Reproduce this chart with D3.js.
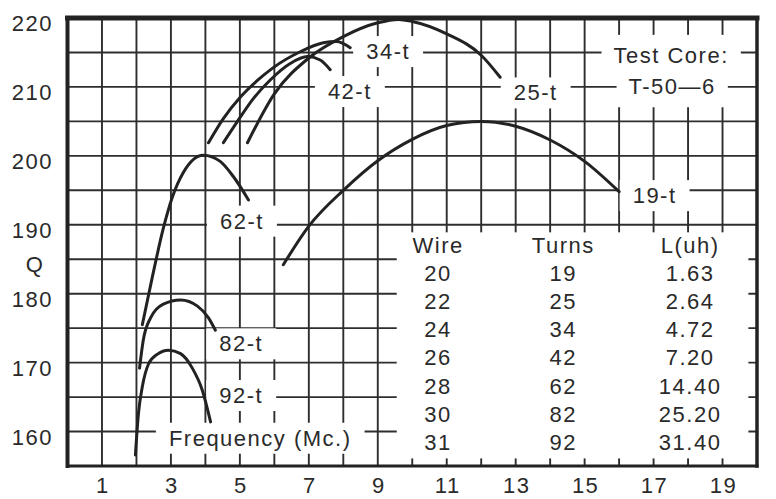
<!DOCTYPE html>
<html><head><meta charset="utf-8">
<script src="https://cdn.jsdelivr.net/npm/d3@7"></script>
<style>
body{margin:0;background:#fff}
svg{display:block}
text{font-family:"Liberation Sans",Arial,Helvetica,sans-serif;font-size:22px;letter-spacing:1.5px;fill:#2a2a2a}
</style>
</head><body>
<svg id="c" width="776" height="499"></svg>
<script>
// ---- data ----
const freqTicks = [1,3,5,7,9,11,13,15,17,19];
const qTicks = [160,170,180,190,200,210,220];
const curve19 = [[6.26,184.2],[7.0,189.8],[8,195.0],[9,199.3],[10,202.4],[11,204.4],[12,205.0],[13,204.3],[14,202.3],[15,199.2],[16,194.8]];
const curve25 = [[5.22,201.9],[6.0,209.0],[7.0,214.2],[8.0,217.3],[9.0,219.3],[9.6,219.8],[10.0,219.5],[11.0,217.7],[12.0,214.6],[12.55,211.4]];
const curve34 = [[4.09,201.9],[4.52,205.4],[5.01,208.5],[5.5,210.9],[5.97,212.8],[6.75,215.1],[7.42,216.4],[7.8,216.6],[8.2,215.7]];
const curve42 = [[4.52,201.9],[4.93,205.0],[5.39,208.3],[5.88,211.0],[6.46,213.4],[6.96,214.4],[7.33,213.9],[7.62,212.5]];
const curve62 = [[2.17,175.5],[2.46,182.4],[2.78,189.5],[3.04,194.0],[3.36,197.6],[3.94,200.1],[4.43,199.2],[4.81,197.0],[5.25,193.6]];
const curve82 = [[2.09,169.2],[2.2,173.3],[2.41,176.5],[2.78,178.5],[3.28,179.1],[3.77,178.2],[4.09,176.5],[4.29,174.7]];
const curve92 = [[1.97,156.6],[2.06,162.7],[2.17,166.5],[2.35,169.8],[2.6,171.2],[2.93,171.8],[3.28,171.3],[3.62,169.2],[3.91,166.0],[4.15,161.4]];

const labelTexts = ["34-t","42-t","25-t","62-t","82-t","92-t","19-t","Frequency (Mc.)","Test Core:","T-50—6"];
const labelF = [9.3, 8.19, 13.58, 5.06, 5.04, 5.04, 17.03, 5.59, 17.51, 17.54];
const labelQ = [215.2, 209.4, 209.2, 190.6, 172.8, 165.3, 194.3, 159.1, 214.65, 210.1];

const tableHeaders = ["Wire","Turns","L(uh)"];
const wireGauge = ["20","22","24","26","28","30","31"];
const turns = ["19","25","34","42","62","82","92"];
const inductance = ["1.63","2.64","4.72","7.20","14.40","25.20","31.40"];
const tableColF = [10.75, 14.38, 18.06];
const tableHeaderQ = 187.1;
const tableRowQ = [183.0, 158.5]; // first and last row centres

// ---- setup ----
const svg = d3.select("#c");
const x = d3.scaleLinear().domain([0,20]).range([67.5,757]);
const y = d3.scaleLinear().domain([155,220]).range([466,18]);
const ink = "#222";

// grid
const g = svg.append("g");
g.selectAll("line.v").data(d3.range(1,20)).join("line")
  .attr("x1", d=>x(d)).attr("x2", d=>x(d)).attr("y1", y(220)).attr("y2", y(155))
  .attr("stroke", "#2e2e2e").attr("stroke-width", 1.9);
g.selectAll("line.h").data(d3.range(160,220,5)).join("line")
  .attr("y1", d=>y(d)).attr("y2", d=>y(d)).attr("x1", x(0)).attr("x2", x(20))
  .attr("stroke", "#2e2e2e").attr("stroke-width", 1.9);

// masks layer (filled after texts measured)
const maskG = svg.append("g");

// table region mask
maskG.append("rect")
  .attr("x", x(9.55)).attr("y", y(188.9))
  .attr("width", x(19.75)-x(9.55)).attr("height", y(156.1)-y(188.9))
  .attr("fill", "#fff");

// frame
const fr = svg.append("g").attr("stroke", ink).attr("stroke-linecap","square");
fr.append("line").attr("x1",x(0)).attr("x2",x(20)).attr("y1",y(220)).attr("y2",y(220)).attr("stroke-width",5);
fr.append("line").attr("x1",x(0)).attr("x2",x(0)).attr("y1",y(220)).attr("y2",y(155)).attr("stroke-width",4);
fr.append("line").attr("x1",x(20)).attr("x2",x(20)).attr("y1",y(220)).attr("y2",y(155)).attr("stroke-width",3.5);
fr.append("line").attr("x1",x(0)).attr("x2",x(20)).attr("y1",y(155)).attr("y2",y(155)).attr("stroke-width",3);

// curves
const series = [curve19, curve25, curve34, curve42, curve62, curve82, curve92];
const line = d3.line().x(d=>x(d[0])).y(d=>y(d[1])).curve(d3.curveMonotoneX);
svg.append("g").selectAll("path").data(series).join("path")
  .attr("d", line).attr("fill","none").attr("stroke", ink)
  .attr("stroke-width", 3).attr("stroke-linecap","round");

// axis labels
svg.append("g").selectAll("text").data(qTicks).join("text")
  .attr("x", 53).attr("y", d=>y(d)+13).attr("text-anchor","end").text(d=>d);
svg.append("g").selectAll("text").data(freqTicks).join("text")
  .attr("x", d=>x(d)+1).attr("y", 493).attr("text-anchor","middle").text(d=>d);
svg.append("text").attr("x", 35).attr("y", y(185)+13).attr("text-anchor","middle").text("Q");

// chart labels
const lab = svg.append("g").selectAll("text").data(labelTexts).join("text")
  .attr("x", (d,i)=>x(labelF[i])).attr("y", (d,i)=>y(labelQ[i])+8)
  .attr("text-anchor","middle").text(d=>d);

// masks behind labels
const boxes = [];
lab.each(function(d,i){
  const b = this.getBBox();
  const big = (d==="Test Core:"||d==="T-50—6");
  boxes.push({x:b.x-(big?12:13), y:b.y+(big?-8:-3), w:b.width+(big?24:26), h:b.height+(big?16:6)});
});
maskG.selectAll("rect.lab").data(boxes).join("rect").attr("class","lab")
  .attr("x",d=>d.x).attr("y",d=>d.y).attr("width",d=>d.w).attr("height",d=>d.h).attr("fill","#fff");

// table
const tg = svg.append("g");
tg.selectAll("text.h").data(tableHeaders).join("text").attr("class","h")
  .attr("x",(d,i)=>x(tableColF[i])).attr("y", y(tableHeaderQ)+8).attr("text-anchor","middle").text(d=>d);
const rowScale = d3.scalePoint().domain(d3.range(wireGauge.length)).range([y(tableRowQ[0]), y(tableRowQ[1])]);
const cols = [wireGauge, turns, inductance];
cols.forEach((col,ci)=>{
  tg.append("g").selectAll("text").data(col).join("text")
    .attr("x", x(tableColF[ci])).attr("y",(d,i)=>rowScale(i)+8)
    .attr("text-anchor","middle").text(d=>d);
});
</script>
</body></html>
